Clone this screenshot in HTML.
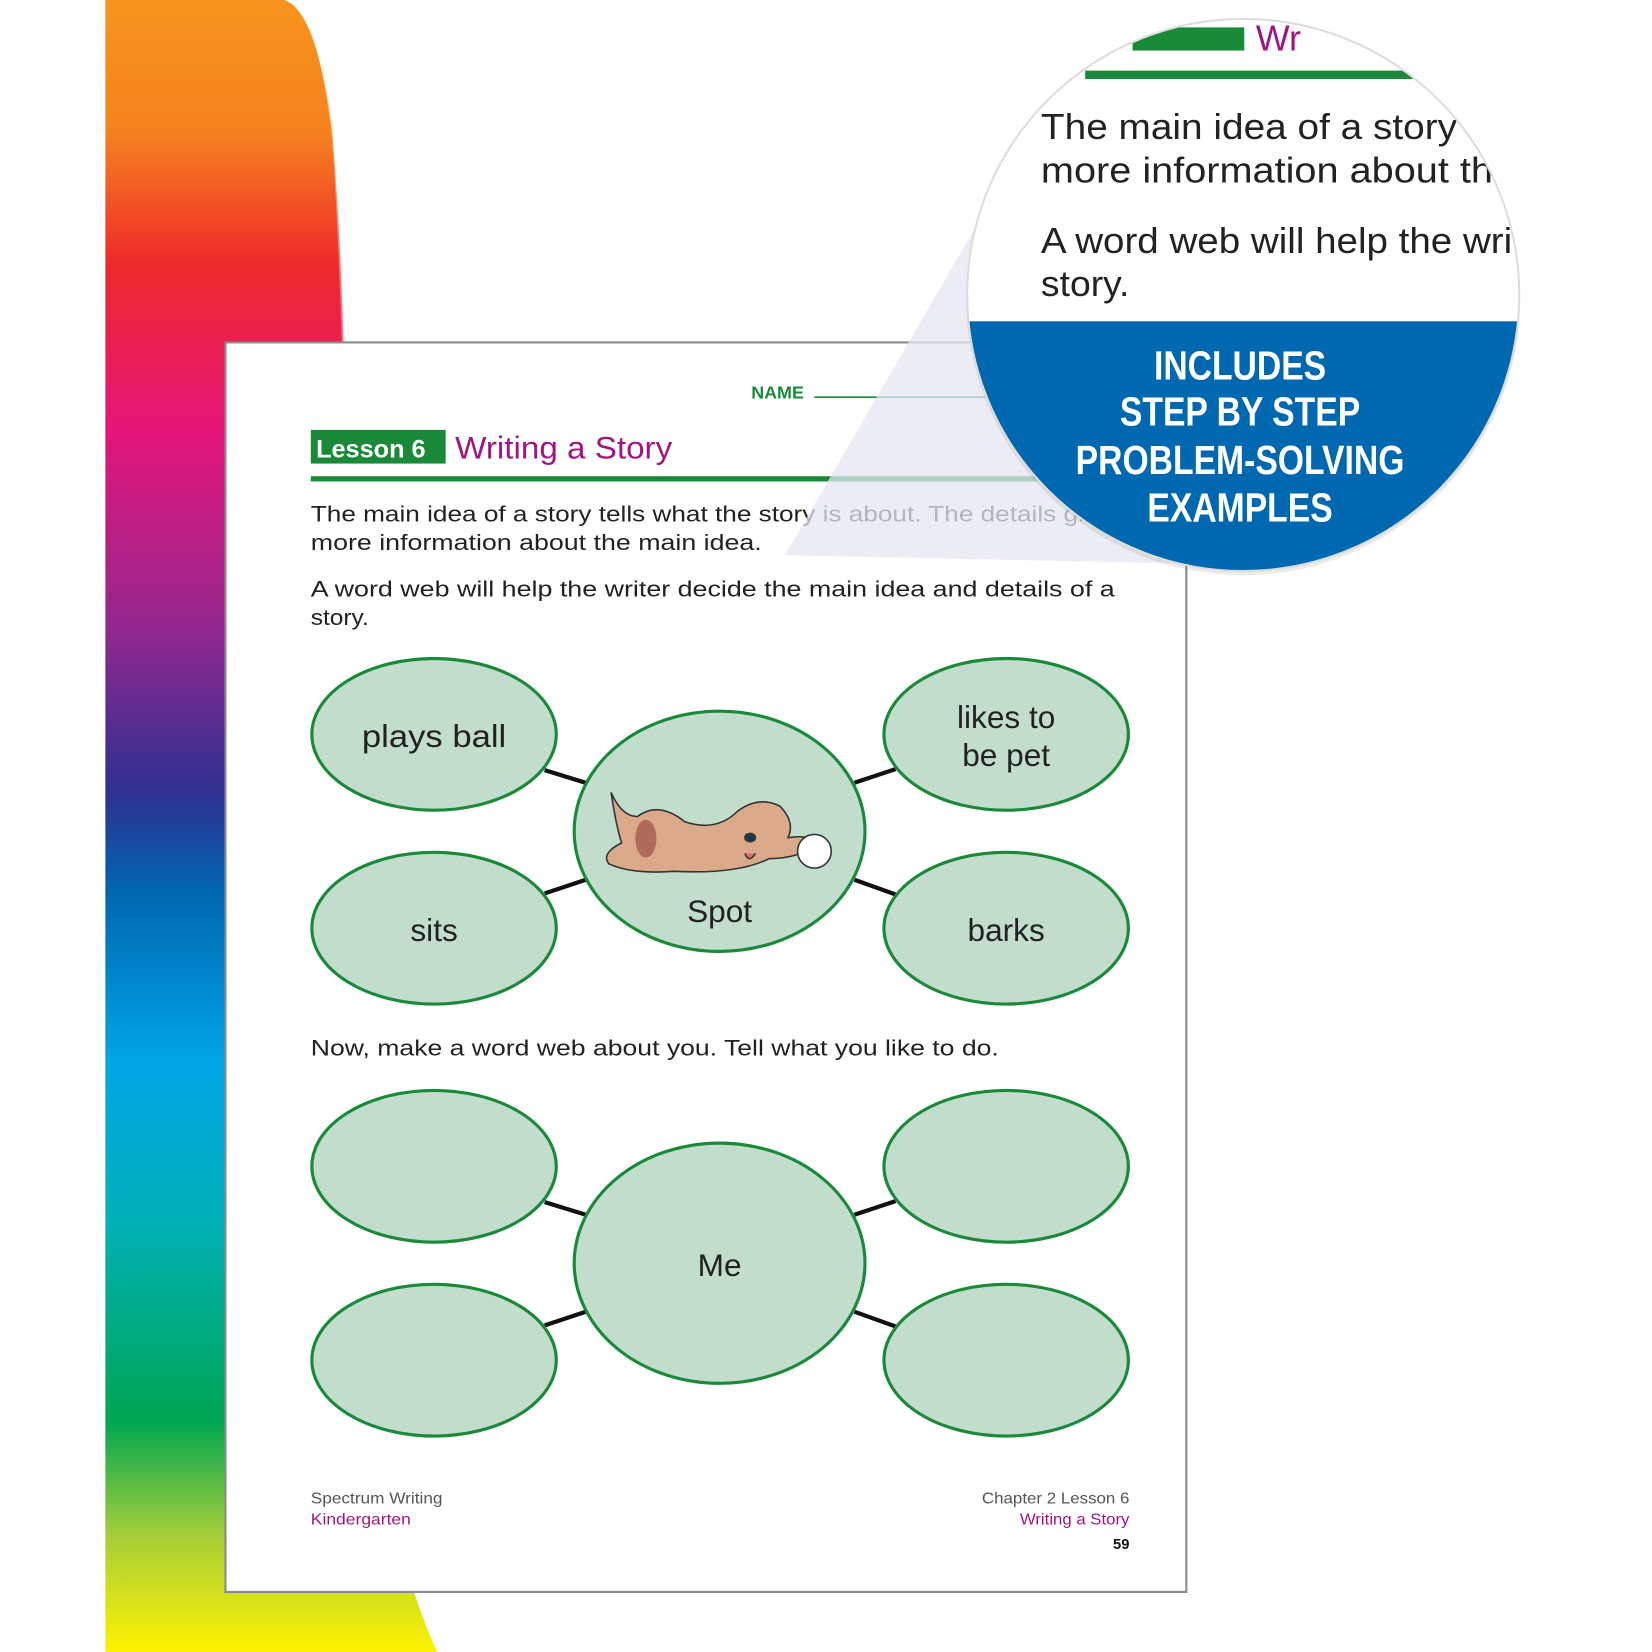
<!DOCTYPE html>
<html><head><meta charset="utf-8"><style>
html,body{margin:0;padding:0;background:#fff;width:1652px;height:1652px;overflow:hidden}
svg{display:block}
text{font-family:"Liberation Sans",sans-serif}
</style></head><body>
<svg width="1652" height="1652" viewBox="0 0 1568 1568" xmlns="http://www.w3.org/2000/svg">
<defs>
<linearGradient id="rb" x1="0" y1="0" x2="0" y2="1">
<stop offset="0" stop-color="#f7941d"/>
<stop offset="0.08" stop-color="#f6821f"/>
<stop offset="0.16" stop-color="#ee2a2a"/>
<stop offset="0.26" stop-color="#e6157a"/>
<stop offset="0.38" stop-color="#93278f"/>
<stop offset="0.48" stop-color="#2e3192"/>
<stop offset="0.54" stop-color="#0067b1"/>
<stop offset="0.64" stop-color="#00a3e6"/>
<stop offset="0.74" stop-color="#00b0b8"/>
<stop offset="0.86" stop-color="#00a651"/>
<stop offset="0.93" stop-color="#a6ce39"/>
<stop offset="1" stop-color="#fff200"/>
</linearGradient>
<clipPath id="cc"><circle cx="1180" cy="280" r="262"/></clipPath>
</defs>
<rect width="1568" height="1568" fill="#fff"/>
<path d="M100,0 L270,0 Q300,10 315,120 Q330,300 330,600 L340,1200 Q360,1450 415,1568 L100,1568 Z" fill="url(#rb)"/>
<path d="M280,0 Q305,20 318,130 Q330,300 332,600" stroke="#fff" stroke-opacity="0.35" stroke-width="6" fill="none"/>
<rect x="214" y="325" width="912" height="1186" fill="#fff" stroke="#8a8a8a" stroke-width="2"/>
<text x="713" y="378" font-size="17" font-weight="bold" fill="#1a8a3a">NAME</text>
<line x1="773" y1="377" x2="1060" y2="377" stroke="#1a8a3a" stroke-width="1.5"/>
<rect x="295" y="408" width="128" height="32" fill="#1a8a3a"/>
<text x="300" y="434" font-size="24" font-weight="bold" fill="#fff">Lesson 6</text>
<text x="432" y="435" font-size="30" fill="#a0167f" textLength="206" lengthAdjust="spacingAndGlyphs">Writing a Story</text>
<rect x="295" y="452" width="770" height="5" fill="#1a8a3a"/>
<g font-size="21" fill="#222" lengthAdjust="spacingAndGlyphs">
<text x="295" y="495" textLength="760" lengthAdjust="spacingAndGlyphs">The main idea of a story tells what the story is about. The details give</text>
<text x="295" y="522" textLength="428" lengthAdjust="spacingAndGlyphs">more information about the main idea.</text>
<text x="295" y="566" textLength="763" lengthAdjust="spacingAndGlyphs">A word web will help the writer decide the main idea and details of a</text>
<text x="295" y="593" textLength="55" lengthAdjust="spacingAndGlyphs">story.</text>
<text x="295" y="1002" textLength="653" lengthAdjust="spacingAndGlyphs">Now, make a word web about you. Tell what you like to do.</text>
</g>
<polygon points="745,527 935,200 1135,535" fill="#e6e6f2" opacity="0.75"/>
<g stroke="#111" stroke-width="4">
<line x1="517" y1="731" x2="556" y2="743"/><line x1="517" y1="848" x2="556" y2="835"/>
<line x1="811" y1="743" x2="850" y2="730"/><line x1="811" y1="835" x2="850" y2="849"/>
<line x1="517" y1="1141" x2="556" y2="1153"/><line x1="517" y1="1258" x2="556" y2="1245"/>
<line x1="811" y1="1153" x2="850" y2="1140"/><line x1="811" y1="1245" x2="850" y2="1259"/>
</g>
<g fill="#c2ddcc" stroke="#1a8a3a" stroke-width="3">
<ellipse cx="412" cy="697" rx="116" ry="72"/><ellipse cx="955" cy="697" rx="116" ry="72"/>
<ellipse cx="412" cy="881" rx="116" ry="72"/><ellipse cx="955" cy="881" rx="116" ry="72"/>
<ellipse cx="683" cy="789" rx="138" ry="114"/>
<ellipse cx="412" cy="1107" rx="116" ry="72"/><ellipse cx="955" cy="1107" rx="116" ry="72"/>
<ellipse cx="412" cy="1291" rx="116" ry="72"/><ellipse cx="955" cy="1291" rx="116" ry="72"/>
<ellipse cx="683" cy="1199" rx="138" ry="114"/>
</g>
<g font-size="30" fill="#222" text-anchor="middle">
<text x="412" y="709" textLength="137" lengthAdjust="spacingAndGlyphs">plays ball</text>
<text x="955" y="691">likes to</text><text x="955" y="727">be pet</text>
<text x="412" y="893">sits</text>
<text x="955" y="893">barks</text>
<text x="683" y="875">Spot</text>
<text x="683" y="1211">Me</text>
</g>
<g stroke="#333" stroke-width="1.5">
<path d="M580,752 Q590,775 605,775 Q625,760 650,780 Q680,790 700,770 Q720,755 740,765 Q755,780 748,795 Q770,792 775,800 Q760,815 730,815 Q700,830 640,827 Q600,830 578,820 Q570,810 590,800 Q585,785 580,752Z" fill="#d9a98a"/>
<ellipse cx="613" cy="796" rx="10" ry="18" fill="#b06a5a" stroke="none"/>
<ellipse cx="712" cy="795" rx="5" ry="4" fill="#1a3a4a"/>
<path d="M707,810 q4,10 10,0" fill="#e06a7a"/>
<circle cx="773" cy="808" r="16" fill="#fff"/>
</g>
<g font-size="15">
<text x="295" y="1427" fill="#555" textLength="125" lengthAdjust="spacingAndGlyphs">Spectrum Writing</text>
<text x="295" y="1447" fill="#a0167f" textLength="95" lengthAdjust="spacingAndGlyphs">Kindergarten</text>
<text x="1072" y="1427" fill="#555" text-anchor="end" textLength="140" lengthAdjust="spacingAndGlyphs">Chapter 2 Lesson 6</text>
<text x="1072" y="1447" fill="#a0167f" text-anchor="end" textLength="104" lengthAdjust="spacingAndGlyphs">Writing a Story</text>
<text x="1072" y="1470" fill="#111" text-anchor="end" font-weight="bold" font-size="14">59</text>
</g>
<circle cx="1180" cy="283" r="263" fill="#000" opacity="0.08"/>
<g clip-path="url(#cc)">
<rect x="900" y="0" width="560" height="560" fill="#fff"/>
<rect x="1075" y="26" width="106" height="22" fill="#1a8a3a"/>
<text x="1192" y="48" font-size="34" fill="#a0167f">Wr</text>
<rect x="1030" y="67" width="320" height="8" fill="#1a8a3a"/>
<g font-size="34" fill="#222">
<text x="988" y="132" textLength="395" lengthAdjust="spacingAndGlyphs">The main idea of a story</text>
<text x="988" y="173" textLength="450" lengthAdjust="spacingAndGlyphs">more information about the</text>
<text x="988" y="240" textLength="490" lengthAdjust="spacingAndGlyphs">A word web will help the writer</text>
<text x="988" y="281" textLength="84" lengthAdjust="spacingAndGlyphs">story.</text>
</g>
<rect x="900" y="305" width="560" height="260" fill="#0067b1"/>
<g font-size="39" font-weight="bold" fill="#fff" text-anchor="middle">
<text x="1177" y="360" transform="translate(1177 0) scale(0.82 1) translate(-1177 0)">INCLUDES</text>
<text x="1177" y="404" transform="translate(1177 0) scale(0.82 1) translate(-1177 0)">STEP BY STEP</text>
<text x="1177" y="450" transform="translate(1177 0) scale(0.82 1) translate(-1177 0)">PROBLEM-SOLVING</text>
<text x="1177" y="495" transform="translate(1177 0) scale(0.82 1) translate(-1177 0)">EXAMPLES</text>
</g>
</g>
<circle cx="1180" cy="280" r="262" fill="none" stroke="#ddd" stroke-width="2"/>
</svg>
</body></html>
